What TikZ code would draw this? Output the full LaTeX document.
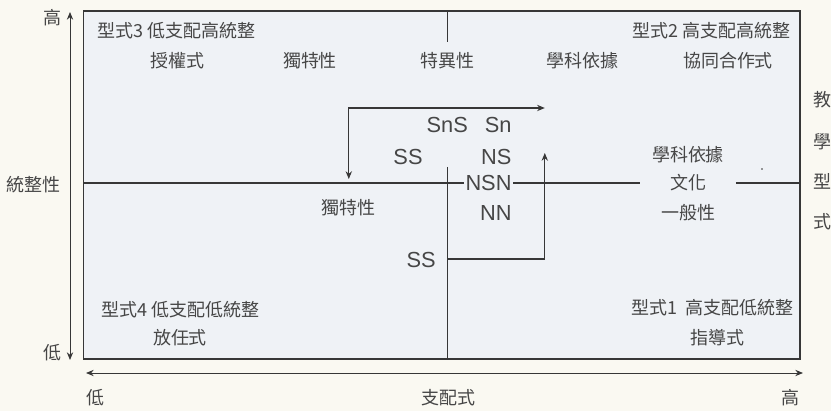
\documentclass[tikz,border=0pt]{standalone}
\usepackage{fontspec}
\usepackage{color}
\usetikzlibrary{arrows.meta}
\setmainfont{Noto Sans CJK TC}
\newfontfamily\latinfont{Liberation Sans}
\definecolor{paper}{RGB}{250,249,242}
\definecolor{panel}{RGB}{239,242,246}
\definecolor{ink}{RGB}{55,55,55}
\definecolor{type}{RGB}{70,70,70}

\begin{document}
\begin{tikzpicture}[>={Stealth[length=5.5pt,width=4.5pt]},
    txt/.style={text=type,inner sep=1pt,font=\fontsize{12.8}{15}\selectfont},
    sym/.style={text=type,inner sep=1pt,font=\latinfont\fontsize{15.5}{18}\selectfont}]
      \useasboundingbox (0,0) rectangle (20.775,10.275);
      \fill[paper] (0,0) rectangle (20.775,10.275);
      \draw[ink,fill=panel,line width=1pt] (2.09,1.3) rectangle (20,10);
      % axes
      \draw[ink,line width=.7pt,<->] (1.75,1.275) -- (1.75,9.975);
      \draw[ink,line width=.7pt,<->] (2.15,.95) -- (20.075,.95);
      \node[txt] (hiY) at (1.3,9.83) {高};
      \node[txt] (axY) at (.83,5.65) {統整性};
      \node[txt] (loY) at (1.3,1.45) {低};
      \node[txt] (loX) at (2.38,.33) {低};
      \node[txt] (axX) at (11.2,.33) {支配式};
      \node[txt] (hiX) at (19.75,.33) {高};
      % quadrants
      \node[txt,anchor=west] (q3) at (2.4,9.5) {型式3 低支配高統整};
      \node[txt] (q3a) at (4.43,8.75) {授權式};
      \node[txt] (uniq) at (7.75,8.75) {獨特性};
      \node[txt] (spec) at (11.18,8.75) {特異性};
      \node[txt] (base) at (14.57,8.75) {學科依據};
      \node[txt] (q2a) at (18.2,8.75) {協同合作式};
      \node[txt,anchor=east] (q2) at (19.8,9.5) {型式2 高支配高統整};
      \node[txt,anchor=west] (q4) at (2.5,2.53) {型式4 低支配低統整};
      \node[txt] (q4a) at (4.5,1.83) {放任式};
      \node[txt,anchor=east] (q1) at (19.88,2.58) {型式1 \ 高支配低統整};
      \node[txt] (q1a) at (17.93,1.83) {指導式};
      \node[txt] (uniq2) at (8.7,5.08) {獨特性};
      \node[txt] (base2) at (17.2,6.4) {學科依據};
      \node[txt,minimum width=2.38cm,inner sep=0pt] (cul) at (17.2,5.7) {文化};
      \node[txt] (gen) at (17.2,4.95) {一般性};
      % centre
      \node[sym] (sns) at (11.18,7.15) {SnS};
      \node[sym,anchor=east] (sn) at (12.83,7.15) {Sn};
      \node[sym] (ssa) at (10.2,6.35) {SS};
      \node[sym,anchor=east] (ns) at (12.83,6.35) {NS};
      \node[sym,anchor=east] (nsn) at (12.83,5.7) {NSN};
      \node[sym,anchor=east] (nn) at (12.83,4.95) {NN};
      \node[sym] (ssb) at (10.53,3.78) {SS};
      \draw[ink,line width=.8pt] (2.09,5.7) -- (nsn.west);
      \draw[ink,line width=.8pt] (nsn.east) -- (cul.west);
      \draw[ink,line width=.8pt] (cul.east) -- (20,5.7);
      \draw[ink,line width=.8pt] (11.18,10) -- (11.18,9.22);
      \draw[ink,line width=.8pt] (11.18,6.1) -- (11.18,1.3);
      \draw[ink,line width=.8pt,->] (11.18,3.8) -| (13.62,6.45);
      \draw[ink,line width=.8pt,<->] (8.72,5.8) |- (13.62,7.575);
      \fill[ink] (19.05,6.05) circle (.7pt);
      % at the right edge
      \node[txt,anchor=west] (e1) at (20.3,7.78) {教};
      \node[txt,anchor=west] (e2) at (20.3,6.73) {學};
      \node[txt,anchor=west] (e3) at (20.3,5.73) {型};
      \node[txt,anchor=west] (e4) at (20.3,4.73) {式};
\end{tikzpicture}
\end{document}
